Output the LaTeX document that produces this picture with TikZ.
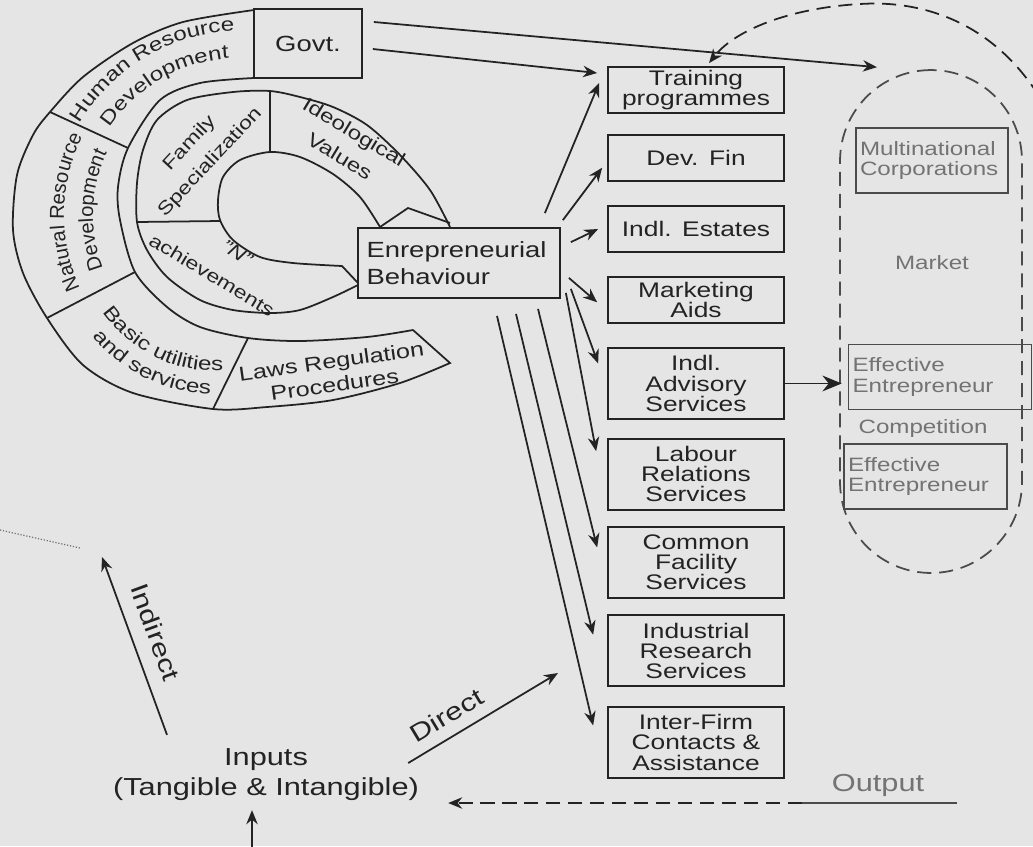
\documentclass[tikz,border=0pt]{standalone}
\usepackage{fontspec}
\setmainfont{Liberation Sans}[FakeStretch=1.25]
\newfontfamily\plainsans{Liberation Sans}
\usetikzlibrary{arrows.meta}
\usetikzlibrary{positioning,decorations.text}

\definecolor{paper}{RGB}{229,229,229}
\definecolor{ink}{RGB}{35,35,35}
\definecolor{faded}{RGB}{115,115,115}
\definecolor{mktline}{RGB}{75,75,75}

\newcommand{\boxfont}{\fontsize{12}{11.5}\selectfont}
\newcommand{\ringfont}{\fontsize{11}{14}\selectfont}
\newcommand{\nrdfont}{\plainsans\fontsize{11.5}{14}\selectfont}
\newcommand{\mktfont}{\fontsize{11}{11.5}\selectfont}
\newcommand{\bigfont}{\fontsize{14}{17}\selectfont}

\tikzstyle{svc} = [rectangle, draw=ink, line width=1pt, minimum width=3.52cm, minimum height=0.92cm, text centered, text width=3.3cm, inner sep=1pt, font=\boxfont, text=ink]
\tikzstyle{svctall} = [svc, minimum height=1.42cm]
\tikzstyle{ebox} = [rectangle, draw=ink, line width=1pt, minimum width=4.04cm, minimum height=1.4cm, text width=3.7cm, inner xsep=0.17cm, align=left, font=\fontsize{12.5}{15}\selectfont, text=ink]
\tikzstyle{govtbox} = [rectangle, draw=ink, line width=1pt, minimum width=2.16cm, minimum height=1.38cm, font=\fontsize{12.5}{15}\selectfont, text=ink]
\tikzstyle{market} = [rectangle, draw=mktline, line width=1pt, dash pattern=on 8pt off 4.5pt, rounded corners=1.82cm, minimum width=3.64cm, minimum height=10.06cm]
\tikzstyle{mktbox} = [rectangle, draw=mktline, line width=0.9pt, minimum height=1.3cm, inner xsep=0.08cm, align=left, font=\mktfont, text=faded]
\tikzstyle{mkttext} = [font=\mktfont, text=faded]
\tikzstyle{ring} = [draw=ink, line width=1pt]
\tikzstyle{ringtext} = [font=\ringfont, text=ink, align=center, inner sep=0pt]
\tikzstyle{along} = [decorate, decoration={text along path, text align=center}]
\tikzstyle{arr} = [draw=ink, line width=1pt, -{Stealth[length=8pt,width=6.5pt]}]
\tikzstyle{dasharr} = [arr, dash pattern=on 8pt off 4.5pt]

\begin{document}
\begin{tikzpicture}[x=0.02cm, y=-0.02cm, node distance=0.4cm]
\useasboundingbox (0,0) rectangle (1033,846);
\fill[paper] (0,0) rectangle (1033,846);

% outer ring
\draw[ring] plot[smooth] coordinates {(254,10) (183,22) (133,43) (83,77) (50,112) (33,135) (17,175) (13,230) (23,273) (47,318) (83,365) (133,393) (213,409) (267,407) (333,400) (400,383) (450,363)} -- (413,330);
\draw[ring] plot[smooth] coordinates {(413,330) (367,337) (300,341) (248,338) (200,327) (167,307) (135,272) (120,220) (118,187) (128,148) (160,100) (200,83) (254,78)};
\draw[ring] (50,112) -- (128,148);
\draw[ring] (47,318) -- (135,272);
\draw[ring] (213,409) -- (248,338);

% inner ring
\draw[ring] plot[smooth] coordinates {(450,227) (430,190) (400,155) (367,125) (333,107) (300,97) (270,91) (233,92) (187,100) (157,120) (143,150) (137,183) (137,222) (147,250) (167,277) (200,300) (233,310) (270,313) (300,310) (333,297) (358,285)};
\draw[ring] plot[smooth] coordinates {(380,227) (360,197) (333,174) (300,157) (270,152) (240,160) (223,177) (218,200) (220,220) (233,240) (260,257) (293,263) (342,266)} -- (358,283);
\draw[ring] (380,227) -- (408,208) -- (450,223);
\draw[ring] (270,91) -- (270,152);
\draw[ring] (137,222) -- (220,221);

\path[along, decoration={text={|\color{ink}\ringfont|Human Resource}}] plot[domain=-171:-71, samples=40] ({240+184*cos(\x)}, {215+184*sin(\x)});
\path[along, decoration={text={|\color{ink}\ringfont|Development}}] plot[domain=-170:-70, samples=40] ({240+157*cos(\x)}, {215+157*sin(\x)});
\path[along, decoration={text={|\color{ink}\nrdfont|Natural Resource}}] plot[domain=131:231, samples=40] ({240+176*cos(\x)}, {215+176*sin(\x)});
\path[along, decoration={text={|\color{ink}\nrdfont|Development}}] plot[domain=132:232, samples=40] ({240+147*cos(\x)}, {215+147*sin(\x)});
\path[along, decoration={text={|\color{ink}\ringfont|Basic utilities}}] plot[domain=0:100, samples=40] ({215+136*cos(166-\x)}, {235+136*sin(166-\x)});
\path[along, decoration={text={|\color{ink}\ringfont|and services}}] plot[domain=0:100, samples=40] ({215+159*cos(166-\x)}, {235+159*sin(166-\x)});
\node[ringtext, font=\fontsize{11.5}{13.5}\selectfont, rotate=8] at (333,373) {Laws Regulation\\Procedures};
\node[ringtext, font=\fontsize{10.5}{16}\selectfont, rotate=47] at (200,153) {Family\\Specialization};
\node[ringtext, font=\fontsize{11}{16}\selectfont, rotate=-31] at (347,144) {Ideological\\Values};
\node[ringtext, font=\fontsize{10.5}{12}\selectfont, rotate=-33] at (237,253) {\itshape "N"};
\node[ringtext, font=\fontsize{10.5}{12}\selectfont, rotate=-31] at (212,275) {achievements};

\node (govt) [govtbox] at (308,43.5) {Govt.};
\node (eb) [ebox] at (459,263) {Enrepreneurial\\Behaviour};

\node (tp) [svc] at (696,90) {Training\\programmes};
\node (df) [svc, below=of tp] {Dev. Fin};
\node (ie) [svc, below=0.47cm of df] {Indl. Estates};
\node (ma) [svc, below=0.47cm of ie] {Marketing\\Aids};
\node (ias) [svctall, below=0.46cm of ma] {Indl.\\Advisory\\Services};
\node (lrs) [svctall, below=0.36cm of ias] {Labour\\Relations\\Services};
\node (cfs) [svctall, below=0.31cm of lrs] {Common\\Facility\\Services};
\node (irs) [svctall, below=0.31cm of cfs] {Industrial\\Research\\Services};
\node (ifc) [svctall, below=0.38cm of irs] {Inter-Firm\\Contacts \&\\Assistance};

\node (mkt) [market] at (931,321.5) {};
\node (mnc) [mktbox, text width=2.88cm] at (932,160.5) {Multinational\\Corporations};
\node (mlab) [mkttext] at (932,263) {Market};
\node (ee1) [mktbox, text width=3.5cm] at (940,377) {Effective\\Entrepreneur};
\node (comp) [mkttext] at (923,428) {Competition};
\node (ee2) [mktbox, text width=3.1cm] at (925.5,476.5) {Effective\\Entrepreneur};

\node (inputs) [font=\bigfont, text=ink, align=center] at (266,775) {Inputs\\(Tangible \& Intangible)};
\node (output) [font=\bigfont, text=faded] at (878,785) {Output};

\coordinate (indtip) at (102,557);
\coordinate (dirtip) at (558,673);
\coordinate (inbot) at (252,852);
\coordinate (outR) at (957,803);
\coordinate (outM) at (802,803);
\coordinate (mktin) at (1050,115);

\draw[arr] ([shift={(11,-21.5)}]govt.east) -- ([shift={(-54,-2)}]mkt.north);
\draw[arr] ([shift={(10,5.5)}]govt.east) -- ([shift={(-10,-17)}]tp.west);
\draw[dasharr] (mktin) .. controls (1000,20) and (920,0) .. (860,4) .. controls (790,8) and (735,30) .. ([shift={(13,-3)}]tp.north);

\draw[arr] ([shift={(-16,-14)}]eb.north east) -- ([shift={(-8,-7)}]tp.west);
\draw[arr] ([shift={(2,-7)}]eb.north east) -- ([shift={(-5,10)}]df.west);
\draw[arr] ([shift={(10,15)}]eb.north east) -- ([shift={(-9,0)}]ie.west);
\draw[arr] ([shift={(8,-21)}]eb.south east) -- ([shift={(-10,2)}]ma.west);
\draw[arr] ([shift={(10,-10)}]eb.south east) -- ([shift={(-9,-20)}]ias.west);
\draw[arr] ([shift={(5,-6)}]eb.south east) -- ([shift={(-11,-23)}]lrs.west);
\draw[arr] ([shift={(79,10)}]eb.south) -- ([shift={(-10,-15)}]cfs.west);
\draw[arr] ([shift={(57,15)}]eb.south) -- ([shift={(-14,-16)}]irs.west);
\draw[arr] ([shift={(38,17)}]eb.south) -- ([shift={(-14,-17)}]ifc.west);

\draw[arr, -{Stealth[length=11pt,width=9pt]}, shorten >=0.12cm] (ias.east) -- (ias.east -| ee1.west);

\draw[arr] ([shift={(-99,-8)}]inputs.north) -- node[pos=0.53, sloped, above=5pt, font=\bigfont, text=ink] {Indirect} (indtip);
\draw[arr] ([shift={(-17,-12)}]inputs.east) -- node[pos=0.33, sloped, above=3pt, font=\bigfont, text=ink] {Direct} (dirtip);
\draw[arr, shorten >=0.06cm] (inbot) -- (inbot |- inputs.south);
\draw[draw=mktline, line width=1pt] (outR) -- (outM);
\draw[dasharr, shorten >=0.46cm] (outM) -- (outM -| inputs.east);
\draw[faded, densely dotted, line width=0.7pt] (0,530) -- (80,548);
\end{tikzpicture}
\end{document}
